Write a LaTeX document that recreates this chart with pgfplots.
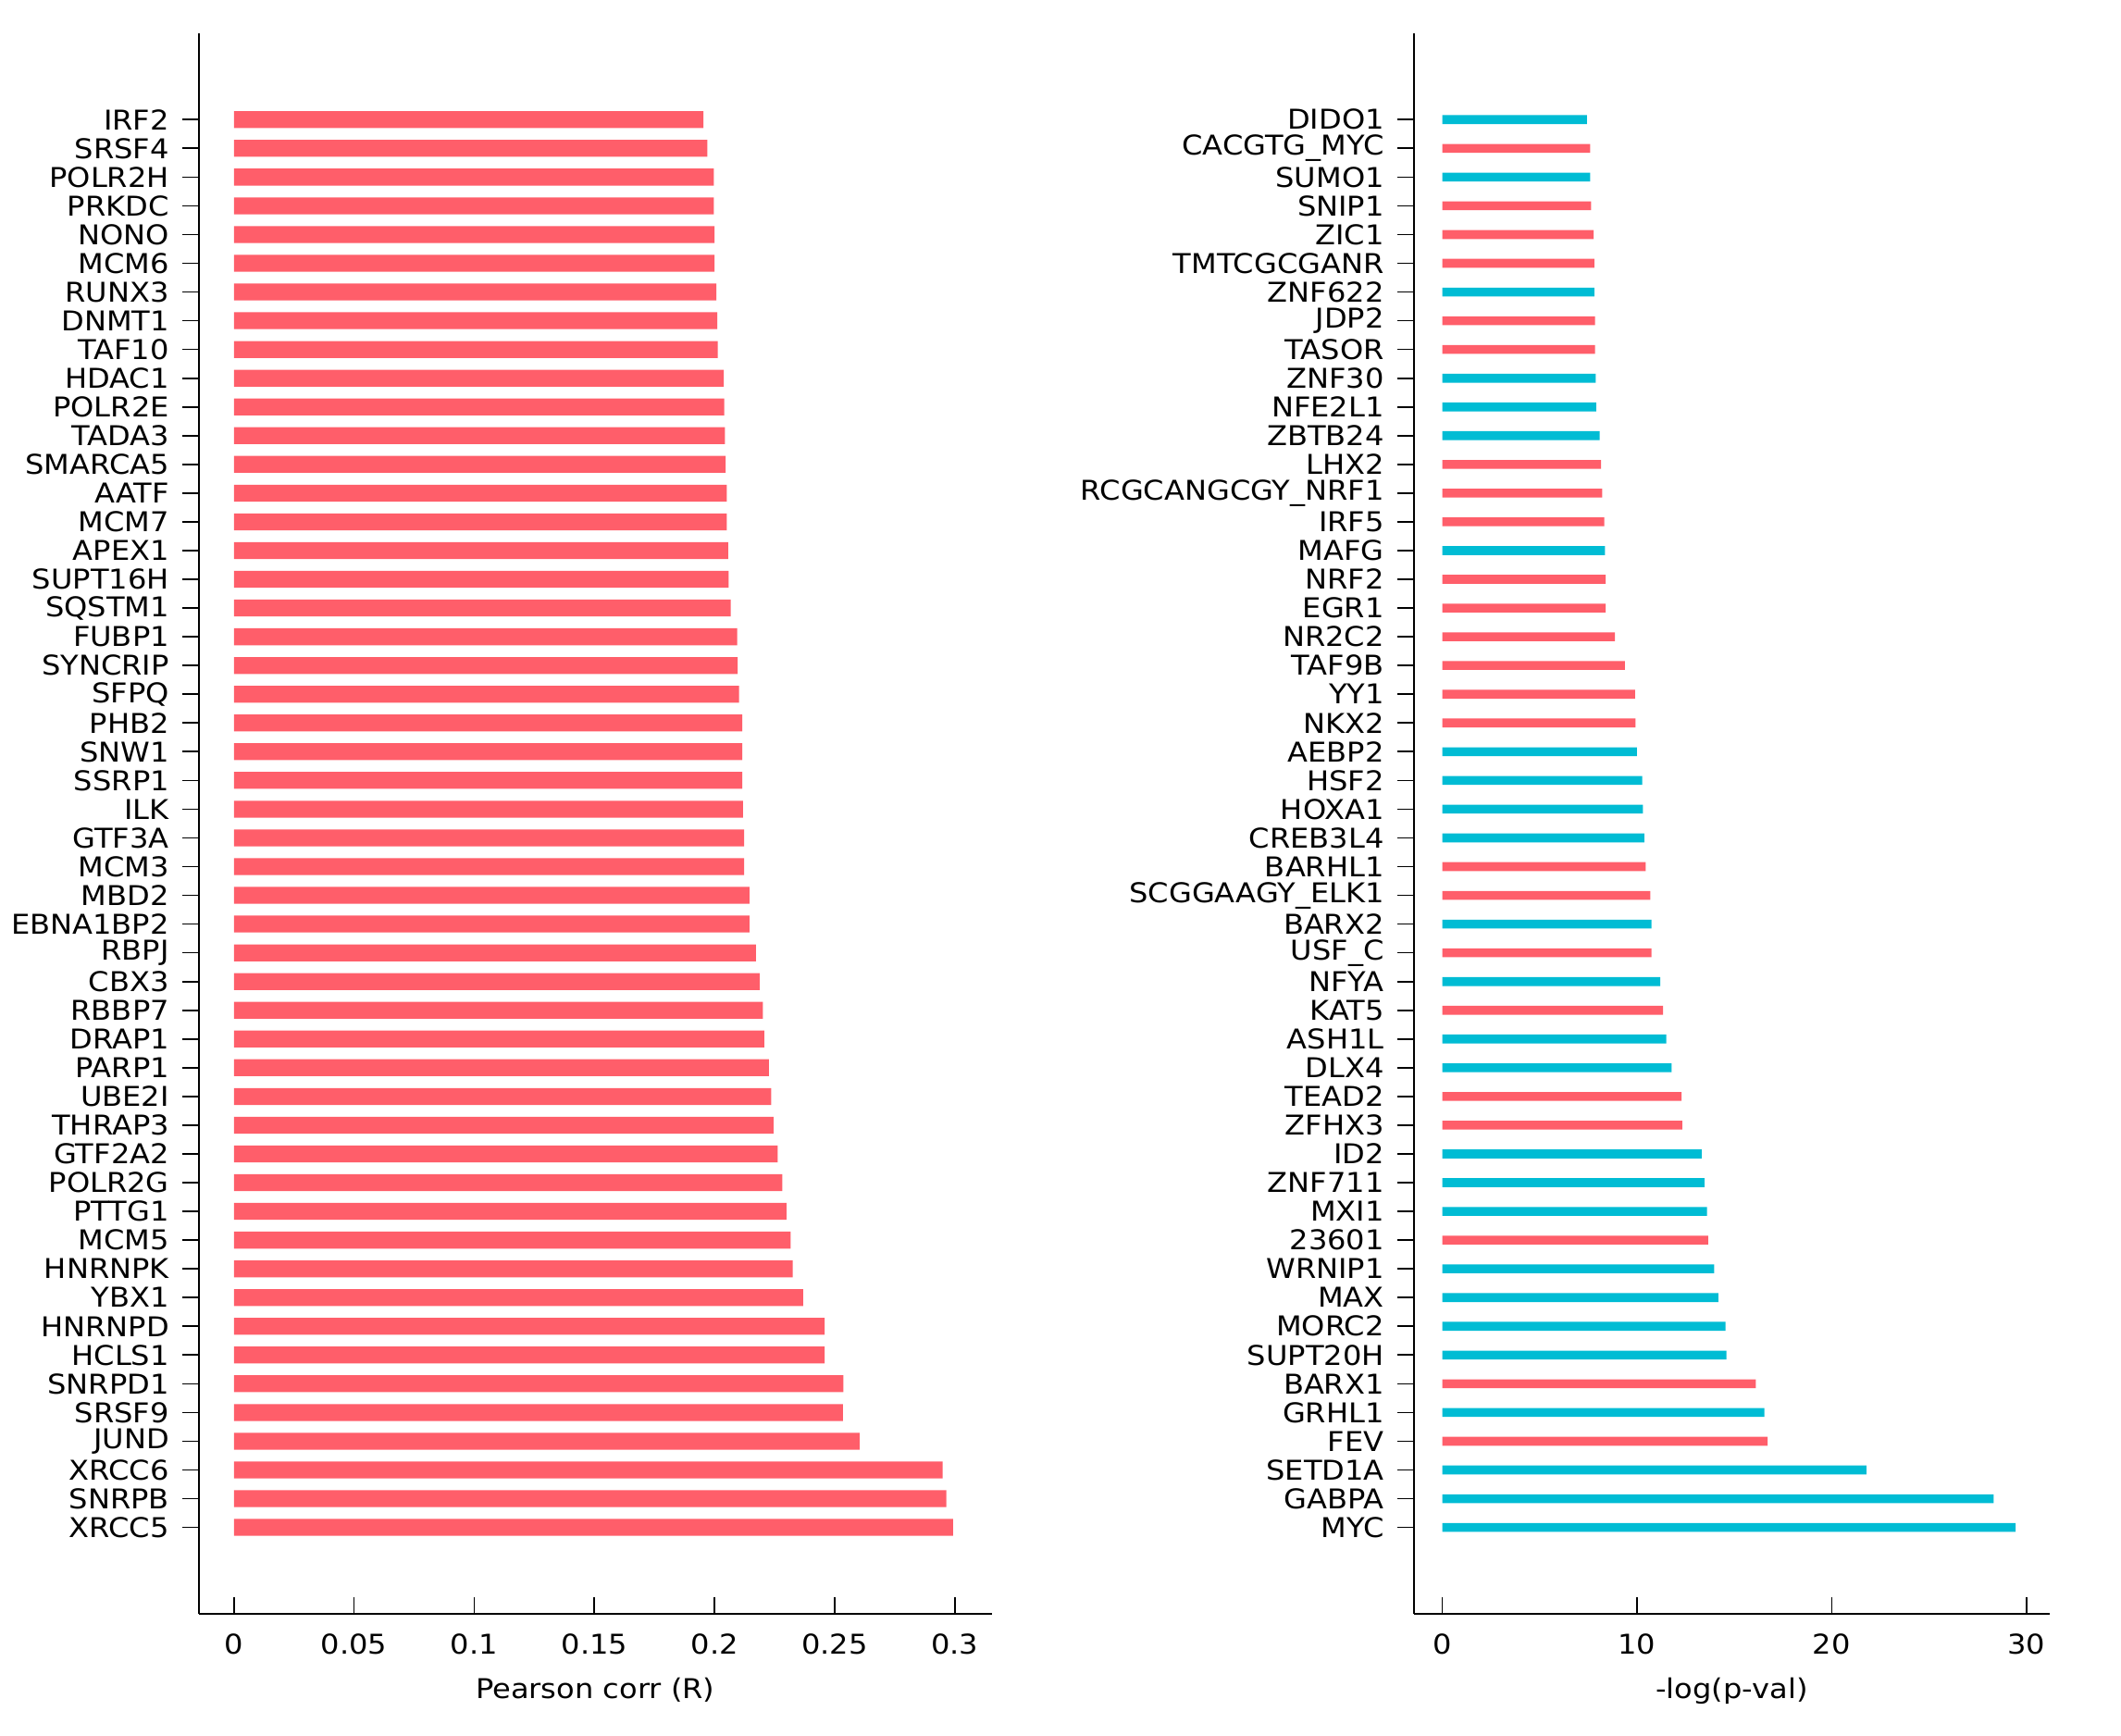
\documentclass[border=0pt]{standalone}
\usepackage{fontspec}
\setmainfont{DejaVu Sans}[FakeStretch=1.09]
\usepackage{pgfplots}
\pgfplotsset{compat=1.18}
\definecolor{barred}{RGB}{255,94,106}
\definecolor{barcyan}{RGB}{0,188,212}

\pgfplotsset{
  panel/.style={
    scale only axis,
    height=18.14cm,
    axis x line*=bottom,
    axis y line*=left,
    ymin=-3, ymax=52,
    ytick={0,...,49},
    tick align=inside,
    major tick length=0.19cm,
    every tick/.style={black, line width=0.5pt},
    axis line style={line width=0.5pt},
    xbar, bar shift=0pt,
    /pgf/number format/assume math mode=true,
    tick label style={font=\fontsize{8.9}{10}\selectfont},
    label style={font=\fontsize{8.9}{10}\selectfont},
    xticklabel style={yshift=-0.12cm},
    yticklabel style={xshift=-0.04cm},
    xlabel style={yshift=-0.05cm},
  }
}

\begin{document}
\fontsize{8.9}{10}\selectfont
\begin{tikzpicture}
\path (0,-0.285cm) rectangle (24.348cm,19.634cm);

% left panel: Pearson correlation
\begin{axis}[panel,
  at={(2.283cm,1.11cm)}, anchor=south west,
  width=9.10cm,
  xmin=-0.0146, xmax=0.3153,
  xtick={0,0.05,0.1,0.15,0.2,0.25,0.3},
  xticklabels={0,0.05,0.1,0.15,0.2,0.25,0.3},
  xlabel={Pearson corr (R)},
  bar width=0.194cm,
  yticklabels={XRCC5,SNRPB,XRCC6,JUND,SRSF9,SNRPD1,HCLS1,HNRNPD,YBX1,HNRNPK,
    MCM5,PTTG1,POLR2G,GTF2A2,THRAP3,UBE2I,PARP1,DRAP1,RBBP7,CBX3,
    RBPJ,EBNA1BP2,MBD2,MCM3,GTF3A,ILK,SSRP1,SNW1,PHB2,SFPQ,
    SYNCRIP,FUBP1,SQSTM1,SUPT16H,APEX1,MCM7,AATF,SMARCA5,TADA3,POLR2E,
    HDAC1,TAF10,DNMT1,RUNX3,MCM6,NONO,PRKDC,POLR2H,SRSF4,IRF2},
]
\addplot[draw=none, fill=barred] coordinates {
  (0.2992,0) (0.2965,1) (0.2949,2) (0.2604,3) (0.2534,4)
  (0.2536,5) (0.2458,6) (0.2458,7) (0.2369,8) (0.2325,9)
  (0.2317,10) (0.2299,11) (0.2282,12) (0.2263,13) (0.2245,14)
  (0.2236,15) (0.2226,16) (0.2207,17) (0.2201,18) (0.2188,19)
  (0.2172,20) (0.2145,21) (0.2145,22) (0.2123,23) (0.2123,24)
  (0.2118,25) (0.2115,26) (0.2115,27) (0.2115,28) (0.2102,29)
  (0.2096,30) (0.2094,31) (0.2067,32) (0.2059,33) (0.2057,34)
  (0.2051,35) (0.2051,36) (0.2046,37) (0.2043,38) (0.2040,39)
  (0.2038,40) (0.2013,41) (0.2011,42) (0.2008,43) (0.2000,44)
  (0.2000,45) (0.1997,46) (0.1997,47) (0.1970,48) (0.1954,49)
};
\end{axis}

% right panel: -log(p-val)
\begin{axis}[panel,
  at={(16.23cm,1.11cm)}, anchor=south west,
  width=7.30cm,
  xmin=-1.46, xmax=31.2,
  xtick={0,10,20,30},
  xlabel={-log(p-val)},
  bar width=0.102cm,
  yticklabels={MYC,GABPA,SETD1A,FEV,GRHL1,BARX1,SUPT20H,MORC2,MAX,WRNIP1,
    23601,MXI1,ZNF711,ID2,ZFHX3,TEAD2,DLX4,ASH1L,KAT5,NFYA,
    USF\_C,BARX2,SCGGAAGY\_ELK1,BARHL1,CREB3L4,HOXA1,HSF2,AEBP2,NKX2,YY1,
    TAF9B,NR2C2,EGR1,NRF2,MAFG,IRF5,RCGCANGCGY\_NRF1,LHX2,ZBTB24,NFE2L1,
    ZNF30,TASOR,JDP2,ZNF622,TMTCGCGANR,ZIC1,SNIP1,SUMO1,CACGTG\_MYC,DIDO1},
]
\addplot[draw=none, fill=barcyan] coordinates {
  (29.45,0) (28.32,1) (21.78,2) (16.54,4) (14.59,6) (14.55,7) (14.18,8)
  (13.97,9) (13.60,11) (13.46,12) (13.32,13) (11.78,16) (11.51,17)
  (11.20,19) (10.75,21) (10.38,24) (10.31,25) (10.27,26) (10.00,27)
  (8.36,34) (8.08,38) (7.91,39) (7.88,40) (7.81,43) (7.60,47) (7.43,49)
};
\addplot[draw=none, fill=barred] coordinates {
  (16.71,3) (16.10,5) (13.66,10) (12.33,14) (12.29,15) (11.34,18)
  (10.75,20) (10.68,22) (10.45,23) (9.93,28) (9.90,29) (9.38,30)
  (8.87,31) (8.39,32) (8.39,33) (8.32,35) (8.22,36) (8.15,37)
  (7.84,41) (7.84,42) (7.81,44) (7.77,45) (7.64,46) (7.60,48)
};
\end{axis}
\end{tikzpicture}
\end{document}
